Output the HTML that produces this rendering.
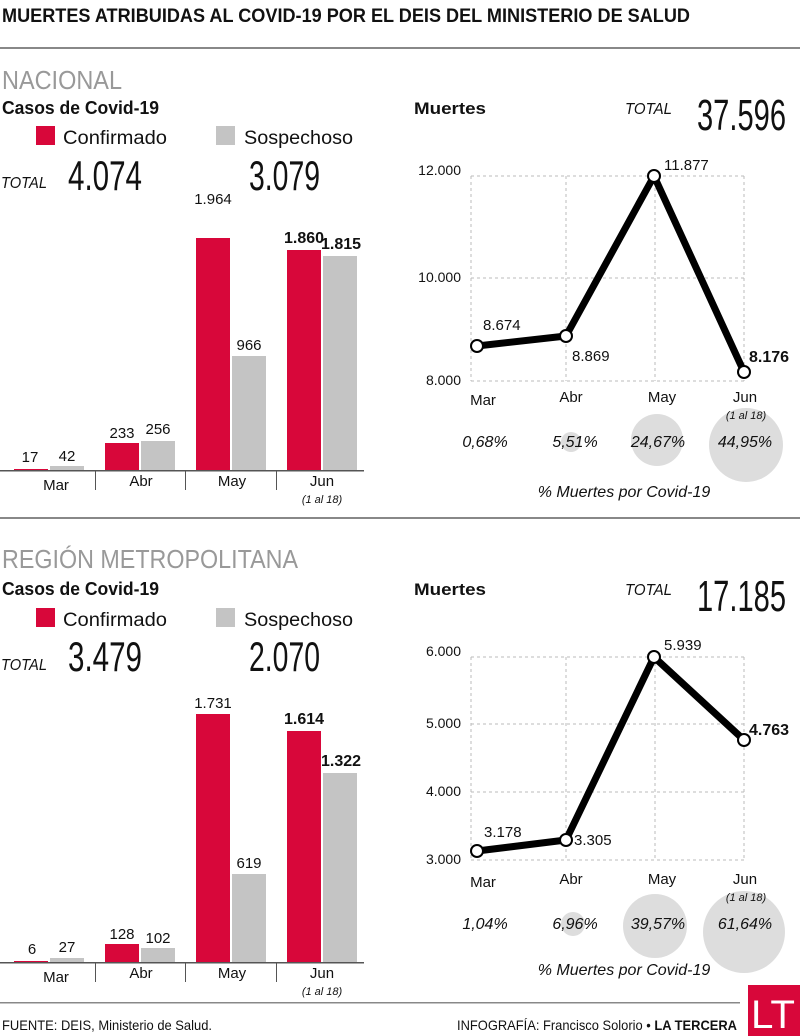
<!DOCTYPE html>
<html><head><meta charset="utf-8"><style>
body{margin:0;background:#fff}
svg{display:block}
text{font-family:"Liberation Sans",sans-serif;fill:#111}
</style></head><body>
<svg width="800" height="1036" viewBox="0 0 800 1036" xmlns="http://www.w3.org/2000/svg">
<text x="2" y="22" font-size="19" font-weight="bold" textLength="688" lengthAdjust="spacingAndGlyphs">MUERTES ATRIBUIDAS AL COVID-19 POR EL DEIS DEL MINISTERIO DE SALUD</text>
<rect x="0" y="47" width="800" height="2" fill="#888"/>

<!-- NACIONAL -->
<g>
<text x="2" y="89" font-size="26" style="fill:#999" textLength="120" lengthAdjust="spacingAndGlyphs">NACIONAL</text>
<text x="2" y="114" font-size="18" font-weight="bold" textLength="157" lengthAdjust="spacingAndGlyphs">Casos de Covid-19</text>
<rect x="36" y="126" width="19" height="19" fill="#d8073a"/>
<text x="63" y="144" font-size="19" textLength="104" lengthAdjust="spacingAndGlyphs">Confirmado</text>
<rect x="216" y="126" width="19" height="19" fill="#c4c4c4"/>
<text x="244" y="144" font-size="19" textLength="109" lengthAdjust="spacingAndGlyphs">Sospechoso</text>
<text x="1" y="188" font-size="16" font-style="italic" textLength="46" lengthAdjust="spacingAndGlyphs">TOTAL</text>
<text x="68" y="190" font-size="42" textLength="74" lengthAdjust="spacingAndGlyphs">4.074</text>
<text x="249" y="190" font-size="42" textLength="71" lengthAdjust="spacingAndGlyphs">3.079</text>
<rect x="14" y="469" width="34" height="2" fill="#d8073a"/>
<rect x="50" y="466" width="34" height="5" fill="#c4c4c4"/>
<rect x="105" y="443" width="34" height="28" fill="#d8073a"/>
<rect x="141" y="441" width="34" height="30" fill="#c4c4c4"/>
<rect x="196" y="238" width="34" height="233" fill="#d8073a"/>
<rect x="232" y="356" width="34" height="115" fill="#c4c4c4"/>
<rect x="287" y="250" width="34" height="221" fill="#d8073a"/>
<rect x="323" y="256" width="34" height="215" fill="#c4c4c4"/>
<g font-size="15" text-anchor="middle">
<text x="30" y="462">17</text><text x="67" y="461">42</text>
<text x="122" y="438">233</text><text x="158" y="434">256</text>
<text x="213" y="204">1.964</text><text x="249" y="350">966</text>
<text x="304" y="243" font-weight="bold" font-size="16">1.860</text><text x="341" y="249" font-weight="bold" font-size="16">1.815</text>
<text x="56" y="490">Mar</text><text x="141" y="486">Abr</text><text x="232" y="486">May</text><text x="322" y="486">Jun</text>
<text x="322" y="503" font-size="11" font-style="italic">(1 al 18)</text>
</g>
<rect x="0" y="470" width="364" height="1.5" fill="#555"/>
<rect x="95" y="471" width="1" height="19" fill="#555"/><rect x="185" y="471" width="1" height="19" fill="#555"/><rect x="276" y="471" width="1" height="19" fill="#555"/>
<text x="414" y="114" font-size="17" font-weight="bold" textLength="72" lengthAdjust="spacingAndGlyphs">Muertes</text>
<text x="625" y="114" font-size="16" font-style="italic" textLength="47" lengthAdjust="spacingAndGlyphs">TOTAL</text>
<text x="697" y="130" font-size="44" textLength="89" lengthAdjust="spacingAndGlyphs">37.596</text>
<g stroke="#bbb" stroke-dasharray="3,3" stroke-width="1" fill="none">
<path d="M471 176H744M471 278H744M471 381H744M471 176V381M566 176V381M655 176V381M744 176V381"/>
</g>
<g font-size="14" text-anchor="end"><text x="461" y="175">12.000</text><text x="461" y="282">10.000</text><text x="461" y="385">8.000</text></g>
<polyline points="477,346 566,336 654,176 744,372" fill="none" stroke="#000" stroke-width="7" stroke-linejoin="round"/>
<g fill="#fff" stroke="#000" stroke-width="2"><circle cx="477" cy="346" r="6"/><circle cx="566" cy="336" r="6"/><circle cx="654" cy="176" r="6"/><circle cx="744" cy="372" r="6"/></g>
<g font-size="15"><text x="483" y="330">8.674</text><text x="572" y="361">8.869</text><text x="664" y="170">11.877</text><text x="749" y="362" font-weight="bold" font-size="16">8.176</text></g>
<g font-size="15" text-anchor="middle"><text x="483" y="405">Mar</text><text x="571" y="402">Abr</text><text x="662" y="402">May</text><text x="745" y="402">Jun</text></g>
<circle cx="571" cy="442" r="10" fill="#ddd"/><circle cx="657" cy="440" r="26" fill="#ddd"/><circle cx="746" cy="445" r="37" fill="#ddd"/>
<text x="746" y="419" font-size="11" font-style="italic" text-anchor="middle">(1 al 18)</text>
<g font-size="16" font-style="italic" text-anchor="middle"><text x="485" y="447">0,68%</text><text x="575" y="447">5,51%</text><text x="658" y="447">24,67%</text><text x="745" y="447">44,95%</text></g>
<text x="624" y="497" font-size="16" font-style="italic" text-anchor="middle">% Muertes por Covid-19</text>
</g>

<rect x="0" y="517" width="800" height="2" fill="#888"/>

<!-- RM -->
<g>
<text x="2" y="568" font-size="26" style="fill:#999" textLength="296" lengthAdjust="spacingAndGlyphs">REGIÓN METROPOLITANA</text>
<text x="2" y="595" font-size="18" font-weight="bold" textLength="157" lengthAdjust="spacingAndGlyphs">Casos de Covid-19</text>
<rect x="36" y="608" width="19" height="19" fill="#d8073a"/>
<text x="63" y="626" font-size="19" textLength="104" lengthAdjust="spacingAndGlyphs">Confirmado</text>
<rect x="216" y="608" width="19" height="19" fill="#c4c4c4"/>
<text x="244" y="626" font-size="19" textLength="109" lengthAdjust="spacingAndGlyphs">Sospechoso</text>
<text x="1" y="670" font-size="16" font-style="italic" textLength="46" lengthAdjust="spacingAndGlyphs">TOTAL</text>
<text x="68" y="671" font-size="42" textLength="74" lengthAdjust="spacingAndGlyphs">3.479</text>
<text x="249" y="671" font-size="42" textLength="71" lengthAdjust="spacingAndGlyphs">2.070</text>
<rect x="14" y="961" width="34" height="2" fill="#d8073a"/>
<rect x="50" y="958" width="34" height="5" fill="#c4c4c4"/>
<rect x="105" y="944" width="34" height="19" fill="#d8073a"/>
<rect x="141" y="948" width="34" height="15" fill="#c4c4c4"/>
<rect x="196" y="714" width="34" height="249" fill="#d8073a"/>
<rect x="232" y="874" width="34" height="89" fill="#c4c4c4"/>
<rect x="287" y="731" width="34" height="232" fill="#d8073a"/>
<rect x="323" y="773" width="34" height="190" fill="#c4c4c4"/>
<g font-size="15" text-anchor="middle">
<text x="32" y="954">6</text><text x="67" y="952">27</text>
<text x="122" y="939">128</text><text x="158" y="943">102</text>
<text x="213" y="708">1.731</text><text x="249" y="868">619</text>
<text x="304" y="724" font-weight="bold" font-size="16">1.614</text><text x="341" y="766" font-weight="bold" font-size="16">1.322</text>
<text x="56" y="982">Mar</text><text x="141" y="978">Abr</text><text x="232" y="978">May</text><text x="322" y="978">Jun</text>
<text x="322" y="995" font-size="11" font-style="italic">(1 al 18)</text>
</g>
<rect x="0" y="962" width="364" height="1.5" fill="#555"/>
<rect x="95" y="963" width="1" height="19" fill="#555"/><rect x="185" y="963" width="1" height="19" fill="#555"/><rect x="276" y="963" width="1" height="19" fill="#555"/>
<text x="414" y="595" font-size="17" font-weight="bold" textLength="72" lengthAdjust="spacingAndGlyphs">Muertes</text>
<text x="625" y="595" font-size="16" font-style="italic" textLength="47" lengthAdjust="spacingAndGlyphs">TOTAL</text>
<text x="697" y="611" font-size="44" textLength="89" lengthAdjust="spacingAndGlyphs">17.185</text>
<g stroke="#bbb" stroke-dasharray="3,3" stroke-width="1" fill="none">
<path d="M471 657H744M471 724H744M471 792H744M471 860H744M471 657V860M566 657V860M655 657V860M744 657V860"/>
</g>
<g font-size="14" text-anchor="end"><text x="461" y="656">6.000</text><text x="461" y="728">5.000</text><text x="461" y="796">4.000</text><text x="461" y="864">3.000</text></g>
<polyline points="477,851 566,840 654,657 744,740" fill="none" stroke="#000" stroke-width="7" stroke-linejoin="round"/>
<g fill="#fff" stroke="#000" stroke-width="2"><circle cx="477" cy="851" r="6"/><circle cx="566" cy="840" r="6"/><circle cx="654" cy="657" r="6"/><circle cx="744" cy="740" r="6"/></g>
<g font-size="15"><text x="484" y="837">3.178</text><text x="574" y="845">3.305</text><text x="664" y="650">5.939</text><text x="749" y="735" font-weight="bold" font-size="16">4.763</text></g>
<g font-size="15" text-anchor="middle"><text x="483" y="887">Mar</text><text x="571" y="884">Abr</text><text x="662" y="884">May</text><text x="745" y="884">Jun</text></g>
<circle cx="573" cy="924" r="12" fill="#ddd"/><circle cx="655" cy="926" r="32" fill="#ddd"/><circle cx="744" cy="932" r="41" fill="#ddd"/>
<text x="746" y="901" font-size="11" font-style="italic" text-anchor="middle">(1 al 18)</text>
<g font-size="16" font-style="italic" text-anchor="middle"><text x="485" y="929">1,04%</text><text x="575" y="929">6,96%</text><text x="658" y="929">39,57%</text><text x="745" y="929">61,64%</text></g>
<text x="624" y="975" font-size="16" font-style="italic" text-anchor="middle">% Muertes por Covid-19</text>
</g>

<rect x="0" y="1002" width="740" height="1.5" fill="#888"/>
<text x="2" y="1030" font-size="14" textLength="210" lengthAdjust="spacingAndGlyphs">FUENTE: DEIS, Ministerio de Salud.</text>
<text x="457" y="1030" font-size="14" textLength="280" lengthAdjust="spacingAndGlyphs">INFOGRAFÍA: Francisco Solorio • <tspan font-weight="bold">LA TERCERA</tspan></text>
<rect x="748" y="985" width="52" height="51" fill="#d8073a"/>
<text x="773" y="1028" font-size="40" text-anchor="middle" style="fill:#fff" textLength="44" lengthAdjust="spacingAndGlyphs">LT</text>
</svg>
</body></html>
